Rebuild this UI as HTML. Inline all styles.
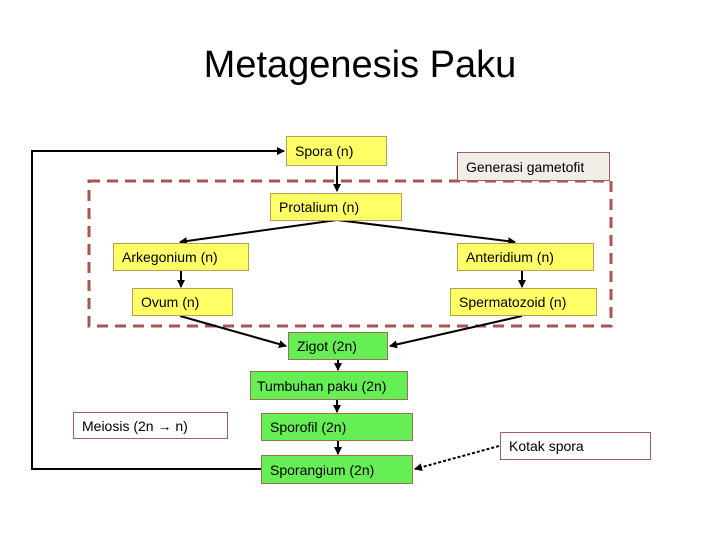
<!DOCTYPE html>
<html><head><meta charset="utf-8"><style>
body{margin:0;width:720px;height:540px;background:#fff;position:relative;overflow:hidden;font-family:"Liberation Sans",sans-serif;}
.b{position:absolute;box-sizing:border-box;font-size:14px;line-height:1;display:flex;align-items:center;padding-left:8px;color:#000;white-space:nowrap}
.y{background:#ffff66;border:1px solid #c0a050}
.g{background:#66ee55;border:1px solid #a07050}
.w{background:#fff;border:1px solid #a06060}
</style></head><body>
<div style="position:absolute;left:0;width:720px;top:44px;text-align:center;font-size:38px;">Metagenesis Paku</div>
<svg width="720" height="540" style="position:absolute;left:0;top:0">
<defs><marker id="a" markerWidth="8" markerHeight="8" refX="7" refY="4" orient="auto" markerUnits="userSpaceOnUse"><path d="M0,0 L8,4 L0,8 z" fill="#000"/></marker></defs>
<rect x="89" y="181" width="522" height="145" fill="none" stroke="#a85450" stroke-width="3" stroke-dasharray="11,7"/>
<g stroke="#000" stroke-width="2" fill="none">
<polyline points="261,469 32,469 32,151 284,151" marker-end="url(#a)"/>
<line x1="337" y1="166" x2="337" y2="191" marker-end="url(#a)"/>
<line x1="337" y1="220" x2="180" y2="242" marker-end="url(#a)"/>
<line x1="337" y1="220" x2="515" y2="242" marker-end="url(#a)"/>
<line x1="181" y1="271" x2="181" y2="287" marker-end="url(#a)"/>
<line x1="522" y1="271" x2="522" y2="287" marker-end="url(#a)"/>
<line x1="180" y1="316" x2="286" y2="346" marker-end="url(#a)"/>
<line x1="522" y1="316" x2="390" y2="346" marker-end="url(#a)"/>
<line x1="338" y1="360" x2="338" y2="370" marker-end="url(#a)"/>
<line x1="337" y1="400" x2="337" y2="412" marker-end="url(#a)"/>
<line x1="338" y1="441" x2="338" y2="454" marker-end="url(#a)"/>
<line x1="499" y1="446" x2="415" y2="469" stroke-dasharray="3,2" marker-end="url(#a)"/>
</g></svg>
<div class="b y" style="left:286px;top:136px;width:101px;height:30px">Spora (n)</div>
<div class="b w" style="left:457px;top:152px;width:153px;height:29px;background:#f3ede8">Generasi gametofit</div>
<div class="b y" style="left:270px;top:193px;width:132px;height:28px">Protalium (n)</div>
<div class="b y" style="left:113px;top:243px;width:136px;height:28px">Arkegonium (n)</div>
<div class="b y" style="left:457px;top:243px;width:137px;height:28px">Anteridium (n)</div>
<div class="b y" style="left:132px;top:288px;width:101px;height:28px">Ovum (n)</div>
<div class="b y" style="left:450px;top:288px;width:147px;height:28px">Spermatozoid (n)</div>
<div class="b g" style="left:288px;top:332px;width:100px;height:28px">Zigot (2n)</div>
<div class="b g" style="left:250px;top:371px;width:158px;height:29px;padding-left:6px">Tumbuhan paku (2n)</div>
<div class="b g" style="left:261px;top:413px;width:152px;height:28px">Sporofil (2n)</div>
<div class="b g" style="left:261px;top:455px;width:152px;height:29px">Sporangium (2n)</div>
<div class="b w" style="left:73px;top:412px;width:155px;height:27px">Meiosis (2n → n)</div>
<div class="b w" style="left:500px;top:432px;width:151px;height:28px">Kotak spora</div>
</body></html>
